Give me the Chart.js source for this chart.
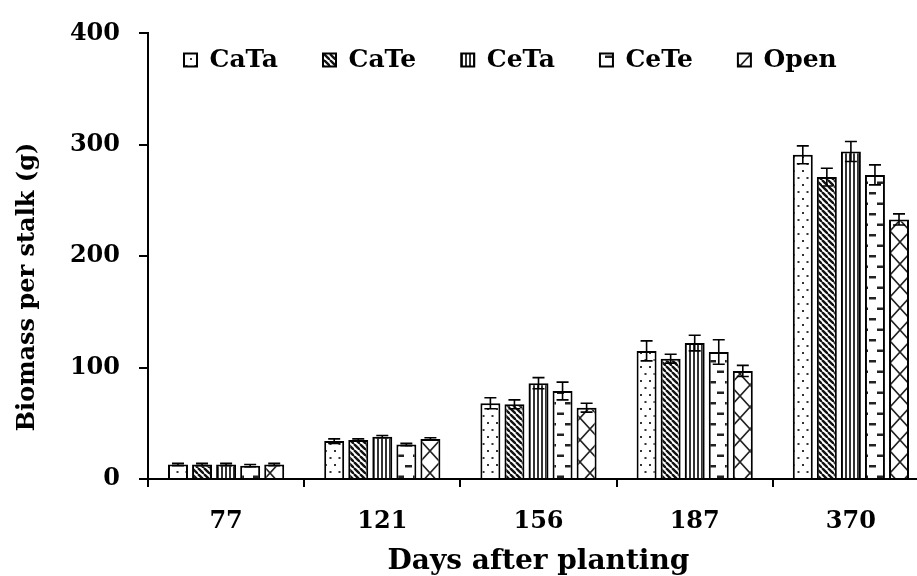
<!DOCTYPE html>
<html>
<head>
<meta charset="utf-8">
<script src="https://cdn.jsdelivr.net/npm/chart.js@4/dist/chart.umd.min.js"></script>
<style>
  html, body { margin: 0; padding: 0; background: #fff; overflow: hidden; }
  #wrap { width: 932px; height: 576px; }
</style>
</head>
<body>
<div id="wrap"><canvas id="c" width="932" height="576"></canvas></div>
<script>
// Days after planting
const categories = ['77', '121', '156', '187', '370'];

// Biomass per stalk (g), mean per treatment
const cataValues = [13, 34, 68, 115, 291];
const cateValues = [13, 35, 67, 108, 271];
const cetaValues = [13, 38, 86, 122, 294];
const ceteValues = [12, 31, 79, 114, 273];
const openValues = [13, 36, 64, 97, 233];

// Standard error of each mean
const cataErr = [1, 2, 5, 9, 8];
const cateErr = [1, 1, 4, 4, 8];
const cetaErr = [1, 1, 5, 7, 9];
const ceteErr = [1, 1, 8, 11, 9];
const openErr = [1, 1, 4, 5, 5];

const yTicks = [0, 100, 200, 300, 400];

const FONT = '"DejaVu Serif", "Liberation Serif", serif';

// ---- hatch fills ----
function tile(w, h, paint) {
  const c = document.createElement('canvas');
  c.width = w; c.height = h;
  const g = c.getContext('2d');
  g.fillStyle = '#fff';
  g.fillRect(0, 0, w, h);
  paint(g, w, h);
  return document.getElementById('c').getContext('2d').createPattern(c, 'repeat');
}

const dots = tile(9, 14, (g) => {
  g.fillStyle = '#333';
  g.fillRect(1, 2, 2, 2);
  g.fillRect(5.5, 9, 2, 2);
});

const diagDown = tile(6, 6, (g, w, h) => {
  g.strokeStyle = '#111';
  g.lineWidth = 2.4;
  for (let k = -1; k <= 1; k++) {
    g.beginPath();
    g.moveTo(k * w, 0);
    g.lineTo(k * w + w, h);
    g.stroke();
  }
});

const vertical = tile(4, 4, (g) => {
  g.fillStyle = '#333';
  g.fillRect(1, 0, 2, 4);
});

const dashes = tile(16, 21, (g) => {
  g.fillStyle = '#222';
  g.fillRect(5, 3, 7, 2.5);
  g.fillRect(13, 13.5, 3, 2.5);
  g.fillRect(0, 13.5, 4, 2.5);
});

const lattice = tile(20, 22, (g, w, h) => {
  g.strokeStyle = '#222';
  g.lineWidth = 1.6;
  g.beginPath();
  g.moveTo(0, 0); g.lineTo(w, h);
  g.moveTo(w, 0); g.lineTo(0, h);
  g.stroke();
});

function series(label, data, err, fill) {
  return {
    label, data, errors: err,
    backgroundColor: fill,
    borderColor: '#000',
    borderWidth: 2,
    categoryPercentage: 0.77,
    barPercentage: 0.83
  };
}

// whiskers drawn from the same values through the y scale
const errorBars = {
  id: 'errorBars',
  afterDatasetsDraw(chart) {
    const ctx = chart.ctx;
    const y = chart.scales.y;
    ctx.save();
    ctx.strokeStyle = '#000';
    ctx.lineWidth = 1.6;
    chart.data.datasets.forEach((ds, di) => {
      const meta = chart.getDatasetMeta(di);
      meta.data.forEach((bar, i) => {
        const v = ds.data[i], e = ds.errors[i];
        const top = y.getPixelForValue(v + e);
        const bot = y.getPixelForValue(v - e);
        const half = 6;
        ctx.beginPath();
        ctx.moveTo(bar.x, top); ctx.lineTo(bar.x, bot);
        ctx.moveTo(bar.x - half, top); ctx.lineTo(bar.x + half, top);
        ctx.moveTo(bar.x - half, bot); ctx.lineTo(bar.x + half, bot);
        ctx.stroke();
      });
    });
    ctx.restore();
  }
};

// legend sits inside the plot as a single row across its top
const legendPlace = {
  id: 'legendPlace',
  afterInit(chart) {
    if (chart.legend) chart.legend.isHorizontal = () => true;
  },
  afterLayout(chart) {
    const lg = chart.legend;
    if (!lg) return;
    const pad = lg.options.labels.padding;
    lg.left = 184 - pad;
    lg.right = 932;
    lg.top = 60 - pad - 12.5;
  }
};

// rotated y-axis title
const yTitle = {
  id: 'yTitle',
  afterDraw(chart) {
    const ctx = chart.ctx;
    ctx.save();
    ctx.translate(28, 287);
    ctx.rotate(-Math.PI / 2);
    ctx.font = 'bold 24px ' + FONT;
    ctx.fillStyle = '#000';
    ctx.textAlign = 'center';
    ctx.textBaseline = 'middle';
    ctx.fillText('Biomass per stalk (g)', 0, 0);
    ctx.restore();
  }
};

new Chart(document.getElementById('c'), {
  type: 'bar',
  data: {
    labels: categories,
    datasets: [
      series('CaTa', cataValues, cataErr, dots),
      series('CaTe', cateValues, cateErr, diagDown),
      series('CeTa', cetaValues, cetaErr, vertical),
      series('CeTe', ceteValues, ceteErr, dashes),
      series('Open', openValues, openErr, lattice)
    ]
  },
  options: {
    responsive: false,
    animation: false,
    layout: { padding: { left: 0, right: 3, top: 25, bottom: 0 } },
    plugins: {
      tooltip: { enabled: false },
      legend: {
        position: 'chartArea',
        align: 'start',
        labels: {
          boxWidth: 13,
          boxHeight: 13,
          padding: 45,
          color: '#000',
          font: { family: FONT, size: 25, weight: 'bold' }
        }
      }
    },
    scales: {
      x: {
        offset: true,
        grid: {
          offset: true,
          drawOnChartArea: false,
          drawTicks: true,
          tickLength: 8,
          color: '#000',
          lineWidth: 2
        },
        border: { display: true, color: '#000', width: 2 },
        ticks: {
          color: '#000',
          padding: 20,
          maxRotation: 0,
          font: { family: FONT, size: 24, weight: 'bold' }
        },
        title: {
          display: true,
          text: 'Days after planting',
          color: '#000',
          padding: { top: 0, bottom: 0 },
          font: { family: FONT, size: 28, weight: 'bold', lineHeight: 1.0 }
        },
        afterFit(s) { s.height = 97; }
      },
      y: {
        min: 0,
        max: 400,
        afterBuildTicks(s) { s.ticks = yTicks.map(v => ({ value: v })); },
        grid: {
          drawOnChartArea: false,
          drawTicks: true,
          tickLength: 9,
          color: '#000',
          lineWidth: 2
        },
        border: { display: true, color: '#000', width: 2 },
        ticks: {
          color: '#000',
          padding: 19,
          font: { family: FONT, size: 24, weight: 'bold' }
        },
        afterFit(s) { s.width = 148; }
      }
    }
  },
  plugins: [errorBars, legendPlace, yTitle]
});
</script>
</body>
</html>
